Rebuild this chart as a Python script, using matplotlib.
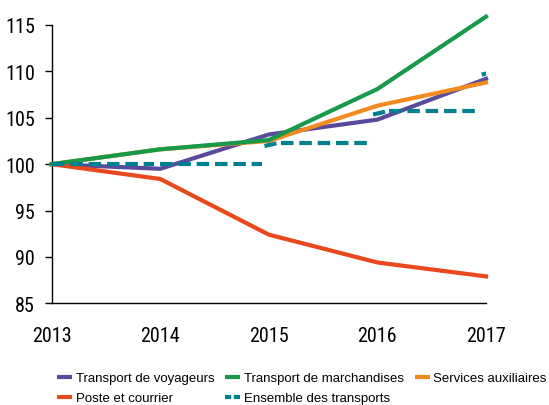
import numpy as np
import matplotlib.pyplot as plt

years = [2013, 2014, 2015, 2016, 2017]
voyageurs = [100, 99.5, 103.2, 104.8, 109.2]
marchandises = [100, 101.6, 102.6, 108.1, 115.9]
auxiliaires = [100, 101.6, 102.5, 106.3, 108.8]
poste = [100, 98.4, 92.4, 89.4, 87.9]
ensemble = [100, 100, 102.3, 105.7, 110.0]

c_voy = '#5b4a9b'
c_mar = '#17994a'
c_aux = '#f18a1f'
c_pos = '#e8481b'
c_ens = '#00808f'

plt.rcParams['font.family'] = ['Liberation Sans', 'DejaVu Sans']
tick_font = ['Roboto Condensed', 'Liberation Sans', 'DejaVu Sans']

fig = plt.figure(figsize=(5.49, 4.06), dpi=100)
ax = fig.add_axes([51.7 / 549, 1 - 304.3 / 406, 434.3 / 549, 278.3 / 406])

lw = 3.0
l_voy, = ax.plot(years, voyageurs, color=c_voy, lw=lw, clip_on=False, zorder=3)
l_pos, = ax.plot(years, poste, color=c_pos, lw=lw, clip_on=False, zorder=3)
l_aux, = ax.plot(years, auxiliaires, color=c_aux, lw=lw, clip_on=False, zorder=4)
l_mar, = ax.plot(years, marchandises, color=c_mar, lw=lw, clip_on=False, zorder=5)

# ensemble drawn as flat dashed steps (no risers), short slanted dash where each level starts
for i in range(1, len(years)):
    ax.hlines(ensemble[i - 1], years[i - 1] + (0.11 if i > 2 else 0), years[i] - 0.06,
              colors=c_ens, lw=lw, linestyles=(0, (3, 1.4)), zorder=6)
for i in range(2, len(years)):
    ax.plot([years[i] - 0.04, years[i] + 0.07], [ensemble[i] - 0.35, ensemble[i] - 0.05],
            color=c_ens, lw=lw, solid_capstyle='butt', zorder=6)
l_ens, = ax.plot([], [], color=c_ens, lw=lw, linestyle=(0, (1.5, 0.6)))

ax.set_xlim(2013, 2017)
ax.set_ylim(85, 115)
ax.set_yticks(np.arange(85, 116, 5))
ax.set_xticks(years)
ax.set_xticks([2013, 2017], minor=True)
ax.tick_params(axis='x', which='major', length=0, pad=16, labelsize=14.5)
ax.tick_params(axis='x', which='minor', length=5.8, width=1, direction='out')
ax.tick_params(axis='y', length=5, width=1, direction='out', pad=7, labelsize=14.5)
for lab in ax.get_xticklabels() + ax.get_yticklabels():
    lab.set_family(tick_font)
ax.spines['top'].set_visible(False)
ax.spines['right'].set_visible(False)
for s in ('left', 'bottom'):
    ax.spines[s].set_linewidth(1)

handles = [l_voy, l_pos, l_mar, l_ens, l_aux]
labels = ['Transport de voyageurs', 'Poste et courrier', 'Transport de marchandises',
          'Ensemble des transports', 'Services auxiliaires']
leg = fig.legend(handles, labels, ncol=3, loc='upper left', bbox_to_anchor=(57 / 549, 1 - 373 / 406),
                 frameon=False, handlelength=1.12, handletextpad=0.3, columnspacing=0.82,
                 labelspacing=0.58, borderaxespad=0, borderpad=0,
                 prop={'family': ['Liberation Sans', 'DejaVu Sans'], 'size': 9.5})
for h in leg.get_lines():
    h.set_solid_capstyle('butt')
    h.set_dash_capstyle('butt')

fig.savefig('out.png', dpi=100)
